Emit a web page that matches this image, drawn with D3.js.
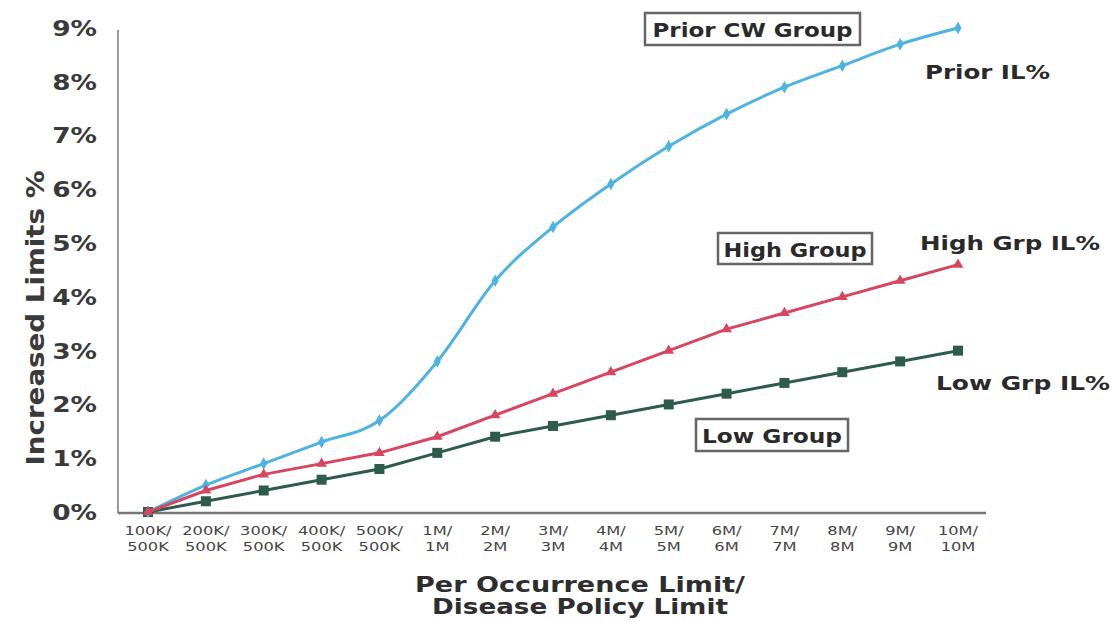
<!DOCTYPE html>
<html><head><meta charset="utf-8">
<script src="https://cdn.jsdelivr.net/npm/d3@7"></script>
<style>body{margin:0;background:#fff;} svg{display:block;}</style>
</head><body>
<svg id="c" width="1113" height="622"></svg>
<script>
const categories = ["100K/|500K","200K/|500K","300K/|500K","400K/|500K","500K/|500K","1M/|1M","2M/|2M","3M/|3M","4M/|4M","5M/|5M","6M/|6M","7M/|7M","8M/|8M","9M/|9M","10M/|10M"];
const priorIL = [0,0.5,0.9,1.3,1.7,2.8,4.3,5.3,6.1,6.8,7.4,7.9,8.3,8.7,9.0];
const highIL  = [0,0.4,0.7,0.9,1.1,1.4,1.8,2.2,2.6,3.0,3.4,3.7,4.0,4.3,4.6];
const lowIL   = [0,0.2,0.4,0.6,0.8,1.1,1.4,1.6,1.8,2.0,2.2,2.4,2.6,2.8,3.0];
const yTicks = [0,1,2,3,4,5,6,7,8,9];

const svg = d3.select("#c");
const x = d3.scalePoint().domain(categories).range([148,958]);
const y = d3.scaleLinear().domain([0,9]).range([512,28]);
const font = "DejaVu Sans, Verdana, sans-serif";

function stretchBy(k){
  return sel => sel.each(function(){
    const w = this.getComputedTextLength();
    d3.select(this).attr("textLength", w*k).attr("lengthAdjust","spacingAndGlyphs");
  });
}
function fitTo(len){
  return sel => sel.attr("textLength", len).attr("lengthAdjust","spacingAndGlyphs");
}

// axes lines
svg.append("line").attr("x1",118).attr("x2",118).attr("y1",30).attr("y2",513).attr("stroke","#777").attr("stroke-width",1.5);
svg.append("line").attr("x1",118).attr("x2",986).attr("y1",513).attr("y2",513).attr("stroke","#777").attr("stroke-width",2.5);

// y tick labels
svg.append("g").selectAll("text").data(yTicks).join("text")
  .attr("x",97).attr("y",d=>y(d)).attr("dy","0.36em").attr("text-anchor","end")
  .attr("font-family",font).attr("font-weight","bold").attr("font-size",22).attr("fill","#3a3a3a")
  .text(d=>d+"%").call(stretchBy(1.2));

// x tick labels (two lines each)
[0,1].forEach(line=>{
  svg.append("g").selectAll("text").data(categories).join("text")
    .attr("x",d=>x(d)).attr("y",530+line*16).attr("dy","0.36em").attr("text-anchor","middle")
    .attr("font-family",font).attr("font-size",13).attr("fill","#444")
    .text(d=>d.split("|")[line]).call(stretchBy(1.25));
});

// axis titles
svg.append("text").attr("transform","translate(35,318) rotate(-90)").attr("text-anchor","middle").attr("dy","0.36em")
  .attr("font-family",font).attr("font-weight","bold").attr("font-size",25).attr("fill","#3a3a3a")
  .text("Increased Limits %").call(fitTo(295));
svg.append("text").attr("x",580).attr("y",592).attr("text-anchor","middle")
  .attr("font-family",font).attr("font-weight","bold").attr("font-size",21).attr("fill","#2e2e2e")
  .text("Per Occurrence Limit/").call(fitTo(330));
svg.append("text").attr("x",580).attr("y",614).attr("text-anchor","middle")
  .attr("font-family",font).attr("font-weight","bold").attr("font-size",21).attr("fill","#2e2e2e")
  .text("Disease Policy Limit").call(fitTo(296));

// series
const series = [
  {vals:priorIL, color:"#4cb3e3", curve:d3.curveMonotoneX, marker:d3.symbolDiamond, size:45},
  {vals:highIL, color:"#d8455e", curve:d3.curveLinear, marker:d3.symbolTriangle, size:50},
  {vals:lowIL, color:"#2d5b4e", curve:d3.curveLinear, marker:d3.symbolSquare, size:100}
];
[series[2],series[0],series[1]].forEach(s=>{
  const line = d3.line().x((d,i)=>x(categories[i])).y(d=>y(d)).curve(s.curve);
  svg.append("path").datum(s.vals).attr("d",line).attr("fill","none").attr("stroke",s.color).attr("stroke-width",3);
  svg.append("g").selectAll("path").data(s.vals).join("path")
    .attr("transform",(d,i)=>`translate(${x(categories[i])},${y(d)})`)
    .attr("d",d3.symbol().type(s.marker).size(s.size)).attr("fill",s.color);
});

// boxed annotations
function box(txt,x0,y0,w,h,len){
  svg.append("rect").attr("x",x0).attr("y",y0).attr("width",w).attr("height",h)
    .attr("fill","#fff").attr("stroke","#666").attr("stroke-width",2.5);
  svg.append("text").attr("x",x0+w/2).attr("y",y0+h/2+1).attr("dy","0.36em").attr("text-anchor","middle")
    .attr("font-family",font).attr("font-weight","bold").attr("font-size",20).attr("fill","#2a2a2a").text(txt).call(fitTo(len));
}
box("Prior CW Group",645,13,215,32,200);
box("High Group",718,233,154,31,143);
box("Low Group",696,419,152,32,140);

// series labels
function lab(txt,x0,y0,len){
  svg.append("text").attr("x",x0).attr("y",y0).attr("dy","0.36em")
    .attr("font-family",font).attr("font-weight","bold").attr("font-size",20).attr("fill","#2a2a2a").text(txt).call(fitTo(len));
}
lab("Prior IL%",925,72,125);
lab("High Grp IL%",920,243,180);
lab("Low Grp IL%",936,383,174);
</script>
</body></html>
